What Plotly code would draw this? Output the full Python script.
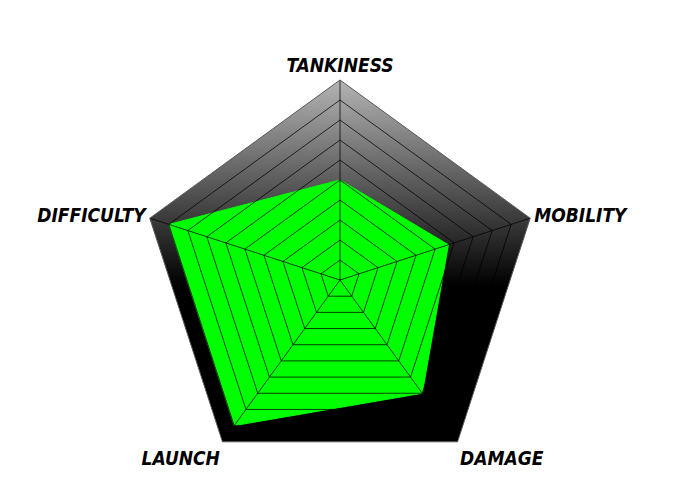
import numpy as np
import plotly.graph_objects as go

# stat radar for one character
categories = ["TANKINESS", "MOBILITY", "DAMAGE", "LAUNCH", "DIFFICULTY"]
values = [5, 5.7, 7, 9, 9]
r_max = 10

# background gradient (bottom -> top of the pentagon)
bg_scale = [[0.0, "#000000"], [0.43, "#000000"], [1.0, "#b4b4b4"]]

# pentagon outline in unit radius, same angles the polar axis uses
ang = np.deg2rad(90 - 360 / len(categories) * np.arange(len(categories)))
px_ = np.append(np.cos(ang), np.cos(ang[0]))
py_ = np.append(np.sin(ang), np.sin(ang[0]))

fig = go.Figure()

# gradient pentagon lives on a hidden cartesian subplot under the polar ones
fig.add_trace(go.Scatter(
    x=px_, y=py_, mode="lines", fill="toself",
    fillgradient=dict(type="vertical", colorscale=bg_scale),
    line=dict(width=0), hoverinfo="skip", showlegend=False,
))

fig.add_trace(go.Scatterpolar(
    r=values + values[:1], theta=categories + categories[:1],
    mode="lines", fill="toself",
    fillcolor="#00ff00", line=dict(color="#00ff00", width=1),
    showlegend=False, subplot="polar",
))

# second polar on top only carries the grid + labels so the web sits over the fill
fig.add_trace(go.Scatterpolar(
    r=values, theta=categories, mode="markers",
    marker=dict(opacity=0), hoverinfo="skip",
    showlegend=False, subplot="polar2",
))

grid = "rgba(0,0,0,0.75)"
label_font = dict(family="Liberation Sans Narrow, DejaVu Sans Condensed, sans-serif",
                  size=19, color="black", style="italic", weight="bold")

full = dict(x=[0, 1], y=[0, 1])
common_radial = dict(range=[0, r_max], dtick=1, showticklabels=False,
                     ticks="", showline=False)
fig.update_layout(
    width=680, height=500,
    margin=dict(l=72, r=88, t=72, b=28, autoexpand=False),
    paper_bgcolor="white", plot_bgcolor="white",
    xaxis=dict(range=[-1, 1], visible=False, fixedrange=True),
    yaxis=dict(range=[-1, 1], visible=False, fixedrange=True,
               scaleanchor="x", scaleratio=1),
    polar=dict(
        domain=full, bgcolor="rgba(0,0,0,0)", gridshape="linear",
        radialaxis=dict(common_radial, showgrid=False),
        angularaxis=dict(direction="clockwise", rotation=90, ticks="",
                         showgrid=False, showline=False, showticklabels=False),
    ),
    polar2=dict(
        domain=full, bgcolor="rgba(0,0,0,0)", gridshape="linear",
        radialaxis=dict(common_radial, gridcolor=grid, gridwidth=1),
        angularaxis=dict(direction="clockwise", rotation=90, ticks="",
                         gridcolor=grid, linecolor="#5a5a5a", linewidth=1,
                         tickfont=label_font),
    ),
    showlegend=False,
)

fig.write_html("out.html")
